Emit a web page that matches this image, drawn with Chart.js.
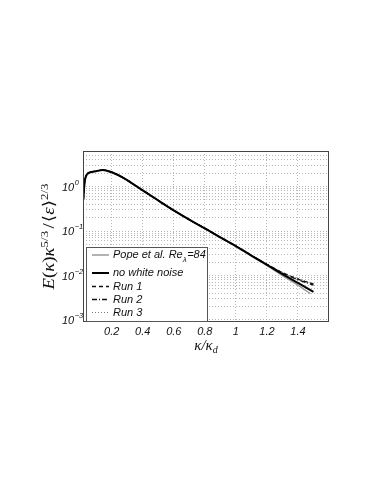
<!DOCTYPE html>
<html>
<head>
<meta charset="utf-8">
<script src="https://cdn.jsdelivr.net/npm/chart.js@4/dist/chart.umd.min.js"></script>
<style>
html,body{margin:0;padding:0;background:#fff;}
canvas{display:block;}
</style>
</head>
<body>
<canvas id="c" width="374" height="484"></canvas>
<script>
// ---- data ----
const kappa = [0.017,0.025,0.039,0.07,0.1,0.142,0.2,0.275,0.35,0.425,0.511,0.6,0.7,0.8,0.9,1.0,1.1,1.2,1.3,1.4,1.5];
const noWhiteNoise = [0.5,1.2,1.85,2.13,2.22,2.37,2.1,1.57,1.07,0.72,0.46,0.29,0.18,0.115,0.072,0.046,0.028,0.0174,0.0107,0.0068,0.0043];
const popeKappa = [0.1,0.142,0.2,0.275,0.35,0.425,0.511,0.6,0.7,0.8,0.9,1.0,1.1,1.2,1.3,1.4,1.48];
const popeValues = [2.2,2.35,2.08,1.56,1.06,0.71,0.455,0.287,0.178,0.113,0.071,0.045,0.0275,0.0168,0.0100,0.0061,0.0039];
const runKappa = [0.017,0.025,0.039,0.07,0.1,0.142,0.2,0.275,0.35,0.425,0.511,0.6,0.7,0.8,0.9,1.0,1.1,1.2,1.3,1.4,1.5];
const run1 = [0.5,1.2,1.85,2.13,2.22,2.37,2.1,1.57,1.07,0.72,0.46,0.29,0.18,0.115,0.072,0.046,0.0283,0.0178,0.0116,0.0083,0.0064];
const run2 = [0.5,1.2,1.85,2.13,2.22,2.37,2.1,1.57,1.07,0.72,0.46,0.29,0.18,0.115,0.072,0.046,0.0282,0.0177,0.0114,0.0080,0.0061];
const run3 = [0.5,1.2,1.85,2.13,2.22,2.37,2.1,1.57,1.07,0.72,0.46,0.29,0.18,0.115,0.072,0.046,0.0284,0.0179,0.0118,0.0085,0.0066];
const xTicks = [0.2,0.4,0.6,0.8,1.0,1.2,1.4];
const xTickLabels = ['0.2','0.4','0.6','0.8','1','1.2','1.4'];
const yDecades = [-3,-2,-1,0];

const pts = (xs, ys) => xs.map((x,i)=>({x:x, y:ys[i]}));

const sansI = 'italic 11px "Liberation Sans", Arial, sans-serif';
const supI = 'italic 7.5px "Liberation Sans", Arial, sans-serif';
const serifI = '"Liberation Serif", "DejaVu Serif", serif';

const decor = {
  id: 'decor',
  afterDatasetsDraw(chart) {
    const ctx = chart.ctx, a = chart.chartArea;
    const xs = chart.scales.x, ys = chart.scales.y;
    ctx.save();
    // frame
    ctx.strokeStyle = '#444';
    ctx.lineWidth = 1;
    ctx.strokeRect(Math.round(a.left)+0.5, Math.round(a.top)+0.5, Math.round(a.right-a.left)-1, Math.round(a.bottom-a.top)-1);

    // legend
    const lx = 86, ly = 247, lw = 121, lh = 74;
    ctx.fillStyle = '#fff';
    ctx.fillRect(lx, ly, lw, lh);
    ctx.strokeStyle = '#555';
    ctx.strokeRect(lx+0.5, ly+0.5, lw, lh);
    const rows = [255, 273, 286.5, 299.5, 312.5];
    const ds = chart.data.datasets;
    ctx.font = sansI;
    ctx.textBaseline = 'middle';
    ctx.textAlign = 'left';
    ds.forEach((d, r) => {
      ctx.beginPath();
      ctx.setLineDash(d.borderDash || []);
      ctx.strokeStyle = d.borderColor;
      ctx.lineWidth = d.borderWidth;
      ctx.moveTo(92, rows[r]);
      ctx.lineTo(109, rows[r]);
      ctx.stroke();
      ctx.setLineDash([]);
      ctx.fillStyle = '#111';
      if (r === 0) {
        const t1 = 'Pope et al. Re';
        ctx.fillText(t1, 113, rows[r]);
        let w = ctx.measureText(t1).width;
        ctx.font = 'italic 8px "Liberation Sans", Arial, sans-serif';
        ctx.fillText('\u03bb', 113 + w, rows[r] + 5);
        const w2 = ctx.measureText('\u03bb').width;
        ctx.font = sansI;
        ctx.fillText('=84', 113 + w + w2 + 0.5, rows[r]);
      } else {
        ctx.fillText(d.label, 113, rows[r]);
      }
    });

    // x tick labels
    ctx.fillStyle = '#111';
    ctx.font = sansI;
    ctx.textAlign = 'center';
    ctx.textBaseline = 'middle';
    xTicks.forEach((v,i)=>{
      ctx.fillText(xTickLabels[i], xs.getPixelForValue(v), a.bottom + 10);
    });
    // y tick labels: "10" left-aligned at fixed x, exponent after it
    ctx.textAlign = 'left';
    ctx.textBaseline = 'middle';
    yDecades.forEach(e=>{
      const py = ys.getPixelForValue(Math.pow(10,e));
      const ex = e < 0 ? '\u2212' + String(-e) : String(e);
      ctx.font = sansI;
      const wb = ctx.measureText('10').width;
      ctx.fillText('10', 62, py + 1);
      ctx.font = supI;
      ctx.fillText(ex, 62 + wb + 0.5, py - 4);
    });

    // x title: κ/κ_d
    ctx.font = 'italic 15px ' + serifI;
    ctx.textAlign = 'left';
    ctx.textBaseline = 'alphabetic';
    const xt = '\u03ba/\u03ba';
    const wxt = ctx.measureText(xt).width;
    ctx.font = 'italic 10px ' + serifI;
    const wd = ctx.measureText('d').width;
    const x0 = (a.left + a.right)/2 - (wxt + wd)/2;
    ctx.font = 'italic 15px ' + serifI;
    ctx.fillText(xt, x0, 350);
    ctx.font = 'italic 10px ' + serifI;
    ctx.fillText('d', x0 + wxt, 353);

    // y title: E(κ)κ^{5/3}/⟨ε⟩^{2/3}
    // [text, size, dy, italic, extra gap after]
    const parts = [
      ['E', 16, 0, true, 0], ['(', 16, 0, false, 0], ['\u03ba', 16, 0, true, 0], [')', 16, 0, false, 0],
      ['\u03ba', 16, 0, true, 0], ['5/3', 11, -6, false, 2], ['/', 16, 0, false, 1],
      ['\u27e8', 16, 0, false, 0], ['\u03b5', 16, 0, true, 0], ['\u27e9', 16, 0, false, 0], ['2/3', 11, -6, false, 0]
    ];
    let total = 0;
    parts.forEach(p=>{ ctx.font = (p[3]?'italic ':'') + p[1] + 'px ' + serifI; p.push(ctx.measureText(p[0]).width); total += p[5] + p[4]; });
    const targetLen = 106;
    ctx.translate(54, 236.5);
    ctx.rotate(-Math.PI/2);
    ctx.scale(targetLen/total, 1);
    let cx = -total/2;
    ctx.fillStyle = '#111';
    ctx.textAlign = 'left';
    ctx.textBaseline = 'alphabetic';
    parts.forEach(p=>{
      ctx.font = (p[3]?'italic ':'') + p[1] + 'px ' + serifI;
      ctx.fillText(p[0], cx, p[2]);
      cx += p[5] + p[4];
    });
    ctx.restore();
  }
};

const gridDotted = { color: '#b8b8b8', lineWidth: 1, drawTicks: false };

new Chart(document.getElementById('c'), {
  type: 'line',
  data: {
    datasets: [
      { label: 'Pope et al. Re=84', data: pts(popeKappa, popeValues), borderColor: '#9a9a9a', borderWidth: 1.5, order: 5 },
      { label: 'no white noise', data: pts(kappa, noWhiteNoise), borderColor: '#000', borderWidth: 2, order: 1 },
      { label: 'Run 1', data: pts(runKappa, run1), borderColor: '#111', borderWidth: 1.3, borderDash: [4,3], order: 2 },
      { label: 'Run 2', data: pts(runKappa, run2), borderColor: '#111', borderWidth: 1.3, borderDash: [5,2,1,2], order: 3 },
      { label: 'Run 3', data: pts(runKappa, run3), borderColor: '#777', borderWidth: 1.2, borderDash: [1,2], order: 4 }
    ]
  },
  options: {
    responsive: false,
    animation: false,
    elements: { point: { radius: 0 }, line: { cubicInterpolationMode: 'monotone', fill: false } },
    layout: { padding: { left: 83, top: 151, right: 45, bottom: 162 } },
    plugins: { legend: { display: false }, tooltip: { enabled: false } },
    scales: {
      x: {
        type: 'linear', min: 0.015, max: 1.6,
        afterBuildTicks: s => { s.ticks = xTicks.map(v=>({value:v})); },
        afterFit: s => { s.height = 0; },
        ticks: { display: false },
        grid: gridDotted,
        border: { display: false, dash: [1,2] }
      },
      y: {
        type: 'logarithmic', min: 0.0009, max: 6.3,
        afterBuildTicks: s => {
          const t = [];
          for (let e = -4; e <= 0; e++) for (let m = 1; m <= 9; m++) {
            const v = m * Math.pow(10, e);
            if (v >= 0.00091 && v <= 6.2) t.push({value: v});
          }
          s.ticks = t;
        },
        afterFit: s => { s.width = 0; },
        ticks: { display: false },
        grid: gridDotted,
        border: { display: false, dash: [1,2] }
      }
    }
  },
  plugins: [decor]
});
</script>
</body>
</html>
